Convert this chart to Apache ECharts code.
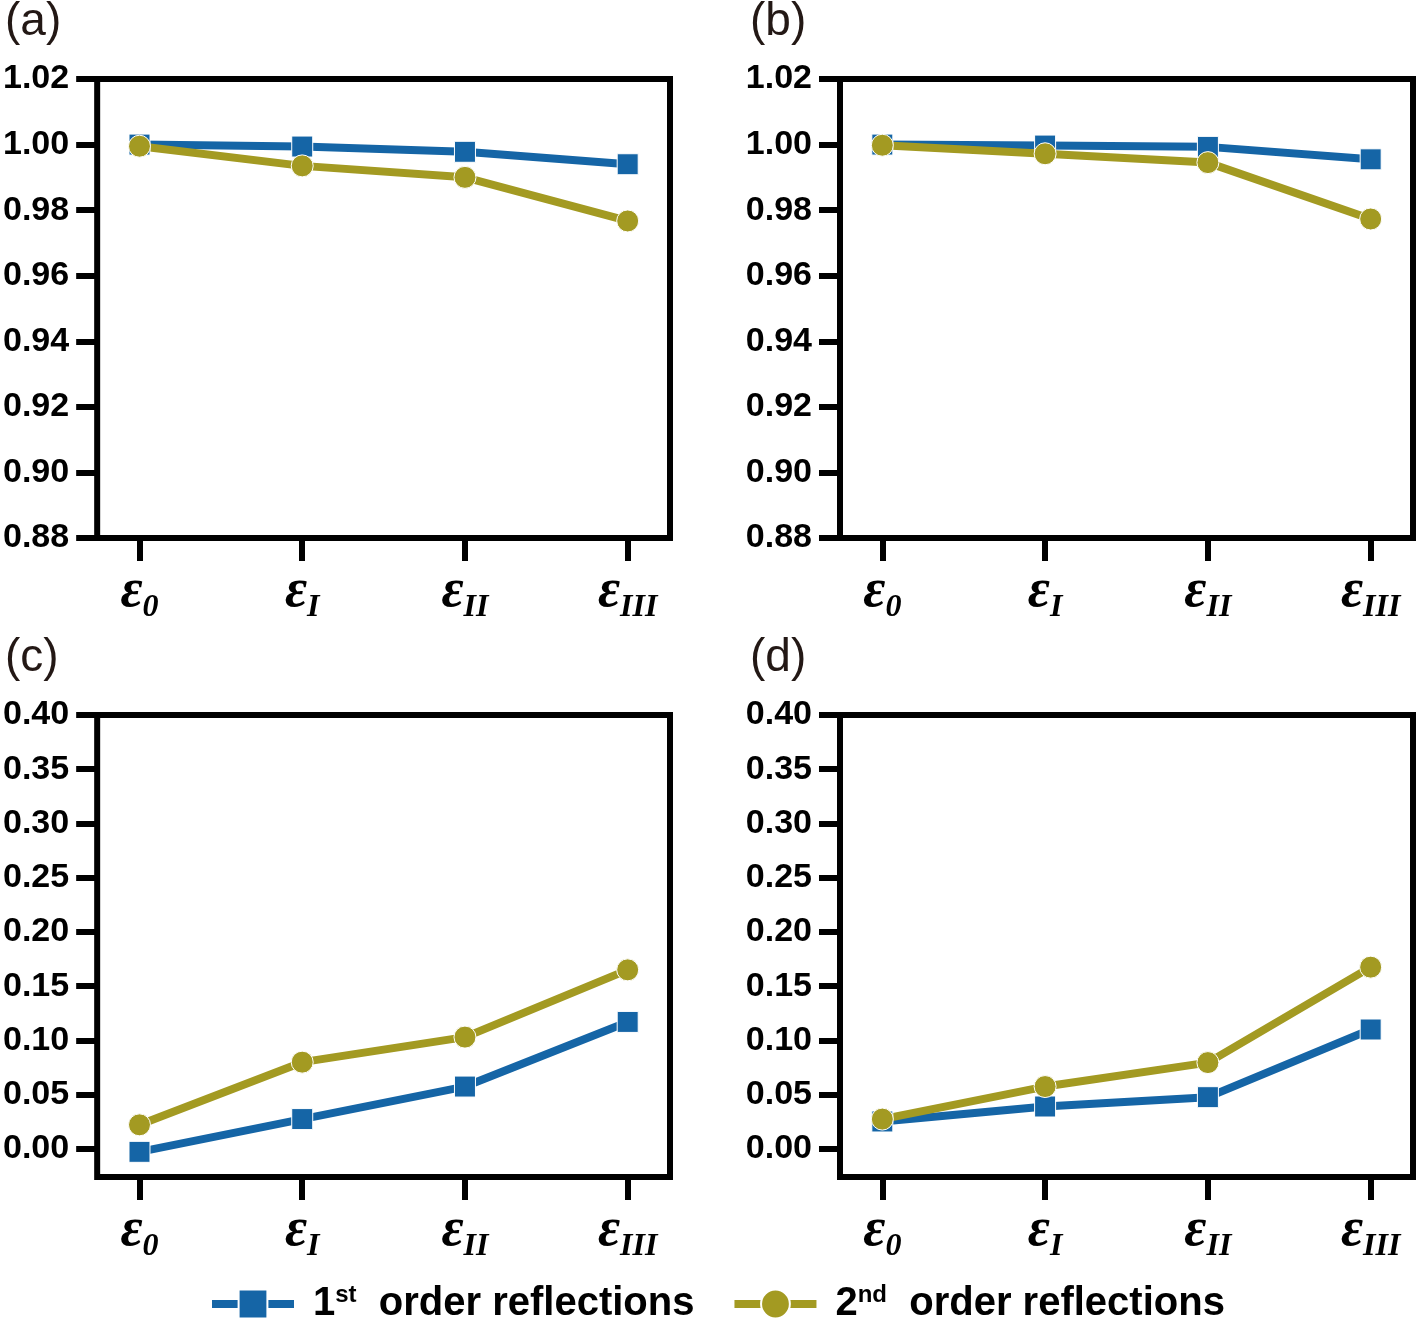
<!DOCTYPE html>
<html>
<head>
<meta charset="utf-8">
<script src="https://cdn.jsdelivr.net/npm/echarts@6/dist/echarts.min.js"></script>
<style>
  html, body { margin: 0; padding: 0; background: #fff; }
  #chart { width: 1418px; height: 1319px; }
</style>
</head>
<body>
<div id="chart"></div>
<script>
// strain levels on the x axis (subscripts of epsilon)
const categories = ['0', 'I', 'II', 'III'];
const xPos = [0, 1, 2, 3];

// panel (a)
const aFirst = [1.000, 0.9994, 0.9978, 0.9940];
const aSecond = [0.9995, 0.9935, 0.9900, 0.9767];
// panel (b)
const bFirst = [1.000, 0.9997, 0.9993, 0.9955];
const bSecond = [0.9998, 0.9972, 0.9945, 0.9773];
// panel (c)
const cFirst = [-0.0028, 0.0274, 0.0574, 0.1170];
const cSecond = [0.0221, 0.0799, 0.1030, 0.1650];
// panel (d)
const dFirst = [0.0252, 0.0390, 0.0476, 0.1100];
const dSecond = [0.0274, 0.0574, 0.0795, 0.1675];

const bottomTicks = [0, 0.05, 0.10, 0.15, 0.20, 0.25, 0.30, 0.35, 0.40];

const BLUE = '#1565a6';
const OLIVE = '#a39a22';
const NAME1 = '1st order reflections';
const NAME2 = '2nd order reflections';

const grids = [
  { left: 97, top: 79, width: 573, height: 459 },
  { left: 840, top: 79, width: 573, height: 459 },
  { left: 97, top: 715, width: 573, height: 462 },
  { left: 840, top: 715, width: 573, height: 462 }
].map(g => Object.assign({ show: true, borderWidth: 6, borderColor: '#000', backgroundColor: '#fff' }, g));

function xAxis(i) {
  return {
    type: 'value', gridIndex: i, min: -0.26, max: 3.26,
    axisLine: { show: false, onZero: false },
    splitLine: { show: false },
    axisTick: { show: true, length: 23, customValues: xPos, lineStyle: { width: 6, color: '#000' } },
    axisLabel: {
      customValues: xPos, margin: 22,
      formatter: v => '{e|ε}{s|' + categories[Math.round(v)] + '}',
      rich: {
        e: { fontFamily: 'Liberation Serif', fontStyle: 'italic', fontWeight: 'bold', fontSize: 54, color: '#000' },
        s: { fontFamily: 'Liberation Serif', fontStyle: 'italic', fontWeight: 'bold', fontSize: 32, color: '#000', padding: [32, 0, 0, 0] }
      }
    }
  };
}

const yLabel = { fontFamily: 'Arial, Liberation Sans', fontWeight: 'bold', fontSize: 34, color: '#000', margin: 28 };
const yTick = { show: true, length: 21, lineStyle: { width: 6, color: '#000' } };

function yTop(i) {
  return {
    type: 'value', gridIndex: i, min: 0.88, max: 1.02, interval: 0.02,
    axisLine: { show: false, onZero: false }, splitLine: { show: false },
    axisTick: yTick,
    axisLabel: Object.assign({ formatter: v => v.toFixed(2) }, yLabel)
  };
}

function yBottom(i) {
  return {
    type: 'value', gridIndex: i, min: -0.026, max: 0.40,
    axisLine: { show: false, onZero: false }, splitLine: { show: false },
    axisTick: Object.assign({ customValues: bottomTicks }, yTick),
    axisLabel: Object.assign({ customValues: bottomTicks, formatter: v => v.toFixed(2) }, yLabel)
  };
}

function line(name, vals, i, color, symbol, size) {
  return {
    name: name, type: 'line', xAxisIndex: i, yAxisIndex: i,
    data: xPos.map((x, k) => [x, vals[k]]),
    symbol: symbol, symbolSize: size,
    lineStyle: { width: 8, color: color },
    itemStyle: { color: color, borderColor: '#fff', borderWidth: 1 },
    emphasis: { disabled: true },
    animation: false
  };
}

const panelTitle = (text, left, top) => ({
  text: text, left: left, top: top,
  textStyle: { fontFamily: 'Arial, Liberation Sans', fontWeight: 'normal', fontSize: 46, color: '#231815' }
});

const chart = echarts.init(document.getElementById('chart'));
chart.setOption({
  backgroundColor: '#fff',
  animation: false,
  title: [
    panelTitle('(a)', 0, -6),
    panelTitle('(b)', 745, -6),
    panelTitle('(c)', 0, 630),
    panelTitle('(d)', 745, 630)
  ],
  legend: {
    data: [NAME1, NAME2],
    left: 203, top: 1278,
    itemWidth: 82, itemHeight: 36, itemGap: 36,
    lineStyle: { width: 8 },
    formatter: n => '{n|' + n[0] + '}{sup|' + n.slice(1, 3) + '}{n|  ' + n.slice(4) + '}',
    textStyle: {
      rich: {
        n: { fontFamily: 'Arial, Liberation Sans', fontWeight: 'bold', fontSize: 40, color: '#000' },
        sup: { fontFamily: 'Arial, Liberation Sans', fontWeight: 'bold', fontSize: 24, color: '#000', padding: [0, 0, 18, 0] }
      },
      padding: [0, 0, 0, 14]
    }
  },
  grid: grids,
  xAxis: [0, 1, 2, 3].map(xAxis),
  yAxis: [yTop(0), yTop(1), yBottom(2), yBottom(3)],
  series: [
    line(NAME1, aFirst, 0, BLUE, 'rect', 21),
    line(NAME2, aSecond, 0, OLIVE, 'circle', 22),
    line(NAME1, bFirst, 1, BLUE, 'rect', 21),
    line(NAME2, bSecond, 1, OLIVE, 'circle', 22),
    line(NAME1, cFirst, 2, BLUE, 'rect', 21),
    line(NAME2, cSecond, 2, OLIVE, 'circle', 22),
    line(NAME1, dFirst, 3, BLUE, 'rect', 21),
    line(NAME2, dSecond, 3, OLIVE, 'circle', 22)
  ]
});
</script>
</body>
</html>
